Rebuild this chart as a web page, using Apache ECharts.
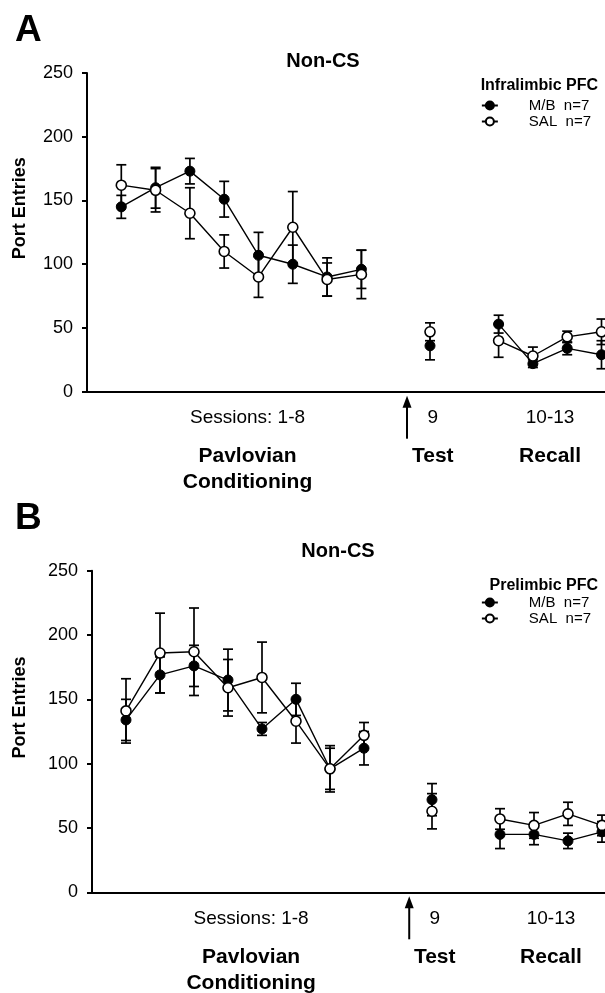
<!DOCTYPE html>
<html><head><meta charset="utf-8">
<script src="https://cdn.jsdelivr.net/npm/echarts@6/dist/echarts.min.js"></script>
<style>html,body{margin:0;padding:0;background:#fff}#c{width:605px;height:993px}</style>
</head><body><div id="c"></div>
<script>
// slot positions on the x axis: sessions 1-8, test (9), recall (10-13)
const sessionX = [1, 2, 3, 4, 5, 6, 7, 8];
const testX = [10];
const recallX = [12, 13, 14, 15];

// Panel A - Infralimbic PFC
const aMBSessions = [145, 160, 173, 151, 107, 100, 90, 96];
const aMBSessionsErr = [9, 16, 10, 14, 18, 15, 15, 15];
const aSALSessions = [162, 158, 140, 110, 90, 129, 88, 92];
const aSALSessionsErr = [16, 17, 20, 13, 16, 28, 13, 19];
const aMBTest = [36];
const aMBTestErr = [11];
const aSALTest = [47];
const aSALTestErr = [7];
const aMBRecall = [53, 22, 34, 29];
const aMBRecallErr = [7, 3, 5, 11];
const aSALRecall = [40, 28, 43, 47];
const aSALRecallErr = [13, 7, 4.5, 10];

// Panel B - Prelimbic PFC
const bMBSessions = [134, 169, 176, 165, 127, 150, 96, 112];
const bMBSessionsErr = [16, 14, 16, 24, 5, 12.5, 18, 13];
const bSALSessions = [141, 186, 187, 159, 167, 133, 96, 122];
const bSALSessionsErr = [25, 31, 34, 22, 27.5, 17, 16, 10];
const bMBTest = [72];
const bMBTestErr = [12.5];
const bSALTest = [63];
const bSALTestErr = [13.7];
const bMBRecall = [45, 45, 40, 47];
const bMBRecallErr = [11, 8, 6, 8];
const bSALRecall = [57, 52, 61, 52];
const bSALRecallErr = [8, 10, 9, 8];

const yTicks = [0, 50, 100, 150, 200, 250];
const xLabelPos = [4.68, 10.08, 13.5];
const xLabelTop = ['Sessions: 1-8', '9', '10-13'];
const xLabelBottom = [['Pavlovian', 'Conditioning'], ['Test'], ['Recall']];
const seriesNames = ['M/B  n=7', 'SAL  n=7'];
const legendTitles = ['Infralimbic PFC', 'Prelimbic PFC'];
const panelLetters = ['A', 'B'];
const panelTitle = 'Non-CS';
const arrowX = 9.33;

const FONT = 'Liberation Sans, Arial, sans-serif';

function lineData(sess, test, recall) {
  const d = [];
  sessionX.forEach((x, i) => d.push([x, sess[i]]));
  d.push([9, '-']);
  testX.forEach((x, i) => d.push([x, test[i]]));
  d.push([11, '-']);
  recallX.forEach((x, i) => d.push([x, recall[i]]));
  return d;
}
function errData(sess, se, test, te, recall, re) {
  const d = [];
  sessionX.forEach((x, i) => d.push([x, sess[i], se[i]]));
  testX.forEach((x, i) => d.push([x, test[i], te[i]]));
  recallX.forEach((x, i) => d.push([x, recall[i], re[i]]));
  return d;
}
function renderErr(params, api) {
  const x = api.value(0), m = api.value(1), e = api.value(2);
  const t = api.coord([x, m + e]), b = api.coord([x, m - e]);
  const hw = 5;
  const st = { stroke: '#000', lineWidth: 1.7 };
  return { type: 'group', children: [
    { type: 'line', shape: { x1: t[0], y1: t[1], x2: b[0], y2: b[1] }, style: st },
    { type: 'line', shape: { x1: t[0] - hw, y1: t[1], x2: t[0] + hw, y2: t[1] }, style: st },
    { type: 'line', shape: { x1: b[0] - hw, y1: b[1], x2: b[0] + hw, y2: b[1] }, style: st }
  ]};
}

const grids = [
  { left: 87, top: 73, width: 16 * 34.3, height: 318.7, outerBoundsMode: 'none', containLabel: false },
  { left: 92, top: 570.7, width: 16 * 34.0, height: 321.6, outerBoundsMode: 'none', containLabel: false }
];

function xAxisFor(gi) {
  return {
    gridIndex: gi, type: 'value', min: 0, max: 16,
    axisLine: { show: true, onZero: false, lineStyle: { color: '#000', width: 2 } },
    axisTick: { show: false }, splitLine: { show: false },
    axisLabel: {
      show: true, customValues: xLabelPos, margin: 14, align: 'center', verticalAlign: 'top',
      formatter: (v) => {
        const i = xLabelPos.findIndex(p => Math.abs(p - v) < 1e-6);
        if (i < 0) return '';
        return '{s|' + xLabelTop[i] + '}\n{sp| }\n' + xLabelBottom[i].map(t => '{b|' + t + '}').join('\n');
      },
      rich: {
        s: { fontFamily: FONT, fontSize: 19, color: '#000', lineHeight: 24 },
        sp: { fontSize: 6, lineHeight: 14 },
        b: { fontFamily: FONT, fontSize: 21, fontWeight: 'bold', color: '#000', lineHeight: 26 }
      }
    }
  };
}
function yAxisFor(gi, gap) {
  return {
    gridIndex: gi, type: 'value', min: yTicks[0], max: yTicks[yTicks.length - 1], interval: 50,
    name: 'Port Entries', nameLocation: 'middle', nameGap: gap, nameRotate: 90,
    nameTextStyle: { fontFamily: FONT, fontSize: 18, fontWeight: 'bold', color: '#000', padding: [0, 0, 0, 48] },
    axisLine: { show: true, lineStyle: { color: '#000', width: 2 } },
    axisTick: { show: true, length: 5, lineStyle: { color: '#000', width: 2 } },
    axisLabel: { fontFamily: FONT, fontSize: 18, color: '#000', margin: 14 },
    splitLine: { show: false }
  };
}

function panelSeries(gi, mb, mbe, mbt, mbte, mbr, mbre, sal, sale, salt, salte, salr, salre) {
  return [
    { type: 'custom', xAxisIndex: gi, yAxisIndex: gi, z: 1, renderItem: renderErr,
      data: errData(mb, mbe, mbt, mbte, mbr, mbre), silent: true },
    { type: 'custom', xAxisIndex: gi, yAxisIndex: gi, z: 1, renderItem: renderErr,
      data: errData(sal, sale, salt, salte, salr, salre), silent: true },
    { name: seriesNames[0], type: 'line', xAxisIndex: gi, yAxisIndex: gi, z: 2,
      data: lineData(mb, mbt, mbr), connectNulls: false, showSymbol: true, showAllSymbol: true,
      symbol: 'circle', symbolSize: 10, clip: false,
      lineStyle: { color: '#000', width: 1.4 },
      itemStyle: { color: '#000', borderColor: '#000', borderWidth: 1 } },
    { name: seriesNames[1], type: 'line', xAxisIndex: gi, yAxisIndex: gi, z: 3,
      data: lineData(sal, salt, salr), connectNulls: false, showSymbol: true, showAllSymbol: true,
      symbol: 'circle', symbolSize: 10, clip: false,
      lineStyle: { color: '#000', width: 1.4 },
      itemStyle: { color: '#fff', borderColor: '#000', borderWidth: 1.6 } }
  ];
}

const chart = echarts.init(document.getElementById('c'), null, { renderer: 'canvas' });
const legendCommon = {
  orient: 'vertical', right: 14, itemWidth: 16, itemHeight: 10, itemGap: 1, padding: 0,
  data: seriesNames, selectedMode: false,
  textStyle: { fontFamily: FONT, fontSize: 15, color: '#000', lineHeight: 15, padding: [0, 0, 0, 26] }
};
chart.setOption({
  animation: false,
  backgroundColor: '#fff',
  textStyle: { fontFamily: FONT },
  title: [
    { text: panelLetters[0], left: 10, top: 7, textStyle: { fontFamily: FONT, fontSize: 37, fontWeight: 'bold', color: '#000' } },
    { text: panelTitle, left: 318, top: 46, textAlign: 'center', textStyle: { fontFamily: FONT, fontSize: 20, fontWeight: 'bold', color: '#000' } },
    { text: legendTitles[0], right: 2, top: 73, textStyle: { fontFamily: FONT, fontSize: 16, fontWeight: 'bold', color: '#000' } },
    { text: panelLetters[1], left: 10, top: 495, textStyle: { fontFamily: FONT, fontSize: 37, fontWeight: 'bold', color: '#000' } },
    { text: panelTitle, left: 333, top: 536, textAlign: 'center', textStyle: { fontFamily: FONT, fontSize: 20, fontWeight: 'bold', color: '#000' } },
    { text: legendTitles[1], right: 2, top: 573, textStyle: { fontFamily: FONT, fontSize: 16, fontWeight: 'bold', color: '#000' } }
  ],
  legend: [
    Object.assign({}, legendCommon, { top: 98 }),
    Object.assign({}, legendCommon, { top: 595 })
  ],
  grid: grids,
  xAxis: [xAxisFor(0), xAxisFor(1)],
  yAxis: [yAxisFor(0, 58), yAxisFor(1, 63)],
  series: [].concat(
    panelSeries(0, aMBSessions, aMBSessionsErr, aMBTest, aMBTestErr, aMBRecall, aMBRecallErr,
                   aSALSessions, aSALSessionsErr, aSALTest, aSALTestErr, aSALRecall, aSALRecallErr),
    panelSeries(1, bMBSessions, bMBSessionsErr, bMBTest, bMBTestErr, bMBRecall, bMBRecallErr,
                   bSALSessions, bSALSessionsErr, bSALTest, bSALTestErr, bSALRecall, bSALRecallErr)
  )
});

// arrows marking the test session, positioned through the axes
const arrows = [0, 1].map(gi => {
  const p = chart.convertToPixel({ gridIndex: gi }, [arrowX, 0]);
  const x = p[0], y0 = p[1] + 4, y1 = p[1] + 47;
  return { type: 'group', children: [
    { type: 'line', shape: { x1: x, y1: y0 + 8, x2: x, y2: y1 }, style: { stroke: '#000', lineWidth: 2 } },
    { type: 'polygon', shape: { points: [[x, y0], [x - 4.5, y0 + 12], [x + 4.5, y0 + 12]] }, style: { fill: '#000' } }
  ]};
});
chart.setOption({ graphic: arrows });
</script>
</body></html>
